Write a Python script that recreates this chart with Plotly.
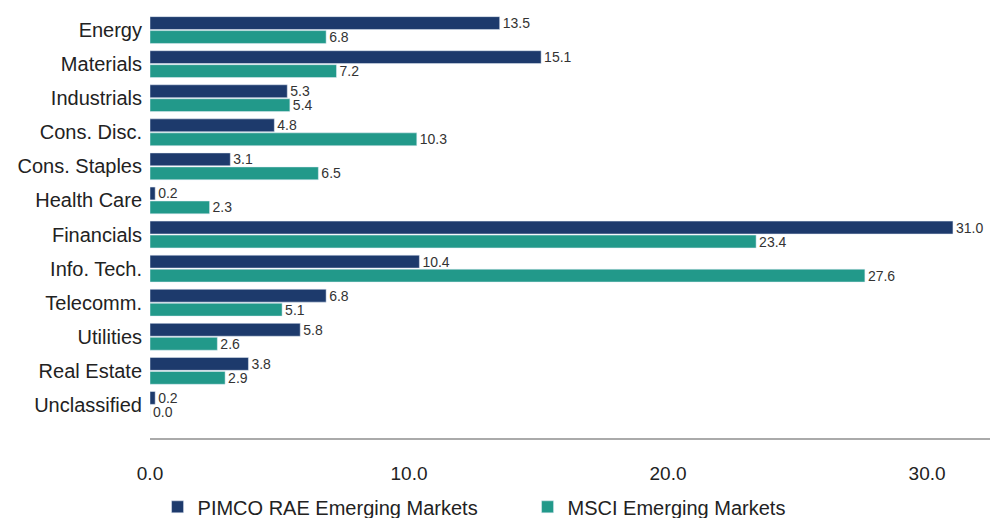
import plotly.graph_objects as go

categories = ["Energy", "Materials", "Industrials", "Cons. Disc.", "Cons. Staples",
              "Health Care", "Financials", "Info. Tech.", "Telecomm.", "Utilities",
              "Real Estate", "Unclassified"]
pimco = [13.5, 15.1, 5.3, 4.8, 3.1, 0.2, 31.0, 10.4, 6.8, 5.8, 3.8, 0.2]
msci = [6.8, 7.2, 5.4, 10.3, 6.5, 2.3, 23.4, 27.6, 5.1, 2.6, 2.9, 0.0]
x_ticks = [0, 10, 20, 30]

NAVY = "#1d3a6c"
TEAL = "#22998a"

fig = go.Figure()
fig.add_trace(go.Bar(
    y=categories, x=pimco, orientation="h", name="PIMCO RAE Emerging Markets",
    marker_color=NAVY, text=[f"{v:.1f}" for v in pimco], textposition="outside",
    textfont=dict(size=14, color="#333333"), cliponaxis=False,
))
fig.add_trace(go.Bar(
    y=categories, x=msci, orientation="h", name="MSCI Emerging Markets",
    marker_color=TEAL, text=[f"{v:.1f}" for v in msci], textposition="outside",
    textfont=dict(size=14, color="#333333"), cliponaxis=False,
))

fig.update_layout(
    width=991, height=518,
    margin=dict(l=150, r=1, t=13, b=80, autoexpand=False),
    barmode="group", bargap=0.18, bargroupgap=0.08,
    plot_bgcolor="white", paper_bgcolor="white",
    font=dict(family="Liberation Sans, Arial, sans-serif", color="#222222"),
    uniformtext=dict(minsize=14, mode="show"),
    legend=dict(orientation="h", x=0.009, xanchor="left", y=-0.116, yanchor="top",
                font=dict(size=20), traceorder="normal",
                entrywidth=325, entrywidthmode="pixels", tracegroupgap=0),
    xaxis=dict(range=[0, 32.43], tickvals=x_ticks, ticktext=[f"{v:.1f}" for v in x_ticks],
               showgrid=False, zeroline=False, showline=True, linecolor="#aaaaaa",
               linewidth=2, tickfont=dict(size=19), ticklabelstandoff=17,
               automargin=False),
    yaxis=dict(categoryorder="array", categoryarray=categories, range=[11.97, -0.5],
               showgrid=False, zeroline=False, showline=False,
               tickfont=dict(size=20), ticklabelstandoff=7, automargin=False),
)

fig.write_html("out.html", config={"displayModeBar": False},
               post_script="document.body.style.margin='0';")
